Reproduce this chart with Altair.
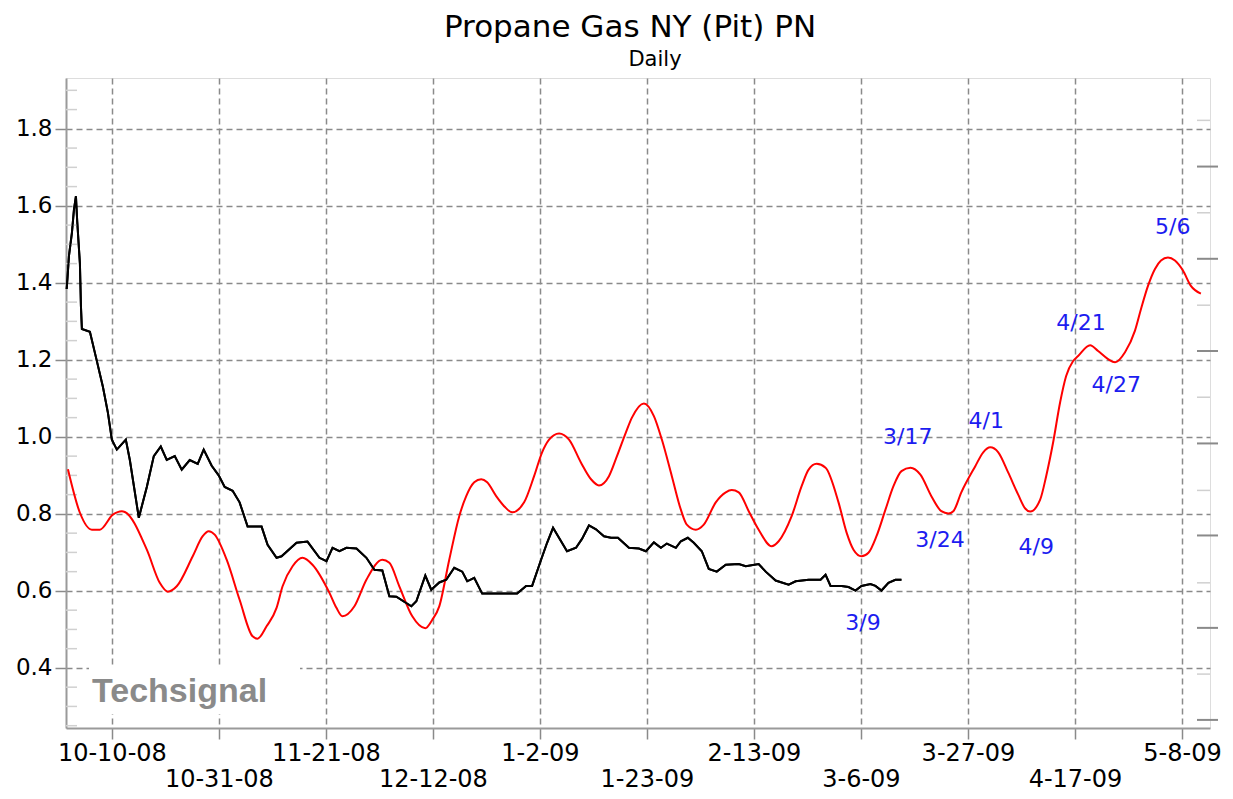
import altair as alt
import pandas as pd

BASE = pd.Timestamp("2008-10-10")

# ---- black line (price): days since 10-10-08, value ----
black_days = [-8.87, -8.72, -8.42, -7.84, -7.44, -7.05, -6.80, -6.27, -6.07, -5.88, -4.31, -3.0,
              -1.76, -0.78, 0.0, 0.98, 2.74, 3.53, 5.29, 6.86, 8.23, 9.6, 10.77, 12.34, 13.71,
              15.28, 16.85, 18.02, 19.59, 20.96, 22.14, 23.7, 25.07, 26.64, 29.38, 30.56, 32.32,
              33.3, 36.24, 38.39, 40.74, 42.12, 43.3, 44.66, 46.03, 48.0, 49.95, 51.52, 53.08,
              54.46, 55.83, 58.77, 59.75, 61.51, 62.68, 64.25, 65.62, 67.19, 68.76, 69.74, 71.11,
              72.67, 79.53, 81.29, 82.47, 84.23, 85.41, 86.58, 89.32, 91.09, 92.26, 93.63, 95.0,
              96.57, 97.94, 99.31, 101.47, 103.43, 104.8, 106.37, 107.74, 108.91, 110.68, 111.66,
              113.03, 114.2, 115.77, 117.14, 118.71, 120.47, 123.02, 124.39, 126.93, 128.31,
              130.26, 132.81, 134.18, 136.73, 139.08, 140.06, 141.04, 143.19, 144.56, 145.93,
              147.11, 148.87, 149.85, 151.03, 152.4, 153.77, 154.95]
black_vals = [1.384, 1.41, 1.47, 1.53, 1.59, 1.625, 1.56, 1.45, 1.34, 1.28, 1.273, 1.20,
              1.13, 1.063, 0.993, 0.967, 0.993, 0.94, 0.79, 0.87, 0.95, 0.975, 0.94, 0.95, 0.915,
              0.94, 0.93, 0.967, 0.925, 0.90, 0.87, 0.86, 0.83, 0.767, 0.767, 0.72, 0.686,
              0.69, 0.725, 0.728, 0.686, 0.677, 0.712, 0.703, 0.712, 0.71, 0.686, 0.655, 0.653,
              0.586, 0.585, 0.56, 0.573, 0.64, 0.603, 0.622, 0.629, 0.66, 0.65, 0.625, 0.634,
              0.593, 0.593, 0.613, 0.613, 0.681, 0.725, 0.764, 0.703, 0.712, 0.735, 0.77, 0.76,
              0.742, 0.738, 0.738, 0.712, 0.71, 0.703, 0.726, 0.712, 0.723, 0.712, 0.729,
              0.738, 0.725, 0.703, 0.657, 0.65, 0.668, 0.67, 0.664, 0.67, 0.65,
              0.627, 0.616, 0.625, 0.629, 0.629, 0.642, 0.613, 0.613, 0.61, 0.601,
              0.613, 0.618, 0.613, 0.601, 0.621, 0.629, 0.629]

# ---- red line (cycle projection) ----
red_days = [-8.62, -6.27, -3.92, -2.35, 0.2, 1.96, 2.55, 6.86, 9.4, 10.97, 12.73, 15.87, 17.83,
            19.0, 20.18, 22.53, 25.07, 27.62, 28.6, 30.36, 32.32, 33.5, 35.46, 37.41, 39.37,
            42.7, 44.07, 45.25, 47.6, 49.95, 53.08, 54.46, 56.41, 58.96, 61.51, 62.88, 64.25,
            66.21, 68.17, 69.54, 71.11, 72.48, 73.65, 75.42, 76.98, 78.55, 80.9, 82.86, 84.43,
            85.8, 87.76, 89.72, 92.07, 94.03, 95.59, 97.55, 99.12, 100.88, 102.06, 104.41,
            106.37, 107.93, 109.89, 111.66, 112.83, 114.59, 116.16, 118.51, 120.47, 121.65,
            123.02, 124.98, 126.93, 129.48, 130.85, 133.4, 135.36, 136.73, 138.3, 140.06,
            142.6, 144.17, 145.54, 147.11, 148.48, 150.05, 151.81, 153.38, 154.95, 156.71,
            158.67, 160.82, 162.78, 164.15, 165.13, 166.7, 169.44, 171.0, 172.38, 173.95,
            175.91, 177.86, 179.24, 180.22, 182.17, 183.35, 184.72, 186.09, 187.27, 188.64,
            189.62, 191.97, 193.54, 195.5, 196.87, 198.82, 200.78, 201.96, 203.33, 204.7,
            205.88, 207.25, 208.62, 210.19, 211.75, 213.71]
red_vals = [0.916, 0.803, 0.759, 0.759, 0.798, 0.807, 0.805, 0.707, 0.621, 0.598, 0.612, 0.69, 0.742,
            0.755, 0.746, 0.681, 0.577, 0.482, 0.476, 0.508, 0.556, 0.612, 0.664, 0.686, 0.668,
            0.595, 0.556, 0.534, 0.56, 0.629, 0.681, 0.673, 0.612, 0.534, 0.503, 0.525, 0.56,
            0.681, 0.794, 0.846, 0.882, 0.89, 0.882, 0.846, 0.82, 0.804, 0.83, 0.898, 0.96,
            0.993, 1.009, 0.993, 0.933, 0.89, 0.874, 0.898, 0.95, 1.012, 1.05, 1.087,
            1.054, 0.993, 0.898, 0.811, 0.772, 0.759, 0.772, 0.83, 0.856, 0.862,
            0.856, 0.807, 0.759, 0.716, 0.729, 0.794, 0.872, 0.915, 0.93, 0.92,
            0.83, 0.752, 0.707, 0.69, 0.699, 0.742, 0.811, 0.872, 0.911, 0.92,
            0.902, 0.846, 0.807, 0.801, 0.807, 0.856, 0.924, 0.96, 0.973, 0.96,
            0.907, 0.85, 0.814, 0.806, 0.837, 0.898, 0.986, 1.09, 1.158, 1.197,
            1.21, 1.238, 1.223, 1.202, 1.194, 1.22, 1.276, 1.332, 1.392, 1.436,
            1.458, 1.466, 1.458, 1.432, 1.392, 1.372]

# ---- turning-point notes ----
note_text = ["3/9", "3/17", "3/24", "4/1", "4/9", "4/21", "4/27", "5/6"]
note_days = [147.4, 156.2, 162.5, 171.6, 181.4, 190.2, 197.1, 208.2]
note_vals = [0.516, 0.999, 0.732, 1.041, 0.715, 1.296, 1.134, 1.546]

# ---- axes ----
y_ticks = [0.4, 0.6, 0.8, 1.0, 1.2, 1.4, 1.6, 1.8]
y_minor = [0.25, 0.3, 0.35, 0.45, 0.5, 0.55, 0.65, 0.7, 0.75, 0.85, 0.9, 0.95, 1.05, 1.1, 1.15,
           1.25, 1.3, 1.35, 1.45, 1.5, 1.55, 1.65, 1.7, 1.75, 1.85, 1.9]
right_major = [0.265, 0.504, 0.744, 0.983, 1.223, 1.4625, 1.702]
right_minor = [0.384, 0.621, 0.861, 1.103, 1.342, 1.582, 1.822]
x_tick_dates = [(2008, 10, 10), (2008, 10, 31), (2008, 11, 21), (2008, 12, 12), (2009, 1, 2),
                (2009, 1, 23), (2009, 2, 13), (2009, 3, 6), (2009, 3, 27), (2009, 4, 17),
                (2009, 5, 8)]

W, H = 1144, 650
FONT = "DejaVu Sans"

black_df = pd.DataFrame({"date": BASE + pd.to_timedelta(black_days, unit="D"), "value": black_vals})
red_df = pd.DataFrame({"date": BASE + pd.to_timedelta(red_days, unit="D"), "value": red_vals})
note_df = pd.DataFrame({"date": BASE + pd.to_timedelta(note_days, unit="D"), "value": note_vals,
                        "text": note_text})
minor_df = pd.DataFrame({"value": y_minor})
rmaj_df = pd.DataFrame({"value": right_major})
rmin_df = pd.DataFrame({"value": right_minor})

x_scale = alt.Scale(domain=[alt.DateTime(year=2008, month=10, date=1),
                            alt.DateTime(year=2009, month=5, date=13, hours=12)])
y_scale = alt.Scale(domain=[0.244, 1.932], zero=False, nice=False)

label_expr = ("round((datum.value - datetime(2008, 9, 10)) / 1814400000) % 2 == 1"
              " ? ['', timeFormat(datum.value, '%-m-%-d-%y')]"
              " : timeFormat(datum.value, '%-m-%-d-%y')")

x_axis = alt.Axis(values=[alt.DateTime(year=y, month=m, date=d) for (y, m, d) in x_tick_dates],
                  labelExpr=label_expr, title=None, grid=True, gridDash=[6, 4],
                  gridColor="#8a8a8a", gridWidth=1.5, tickSize=11, tickColor="#8a8a8a",
                  tickWidth=1.5, labelFont=FONT, labelFontSize=24, labelColor="black",
                  labelPadding=2, labelLineHeight=26, labelOverlap=False, labelFlush=False,
                  labelBaseline="top", domainColor="#9a9a9a", domainWidth=2)
y_axis = alt.Axis(values=y_ticks, format=".1f", title=None, grid=True, gridDash=[6, 4],
                  gridColor="#8a8a8a", gridWidth=1.5, tickSize=11, tickColor="#8a8a8a",
                  tickWidth=1.5, labelFont=FONT, labelFontSize=23, labelColor="black",
                  labelPadding=3, domainColor="#9a9a9a", domainWidth=2)

black = alt.Chart(black_df).mark_line(color="black", strokeWidth=2).encode(
    x=alt.X("date:T", scale=x_scale, axis=x_axis),
    y=alt.Y("value:Q", scale=y_scale, axis=y_axis),
)
red = alt.Chart(red_df).mark_line(color="#ff0000", strokeWidth=2, interpolate="monotone").encode(
    x=alt.X("date:T", scale=x_scale),
    y=alt.Y("value:Q", scale=y_scale),
)
notes = alt.Chart(note_df).mark_text(font=FONT, fontSize=22, color="#1c1cf0",
                                     align="center", baseline="middle").encode(
    x=alt.X("date:T", scale=x_scale),
    y=alt.Y("value:Q", scale=y_scale),
    text="text:N",
)
left_minor = alt.Chart(minor_df).mark_rule(color="#d0d0d0", strokeWidth=1.5).encode(
    y=alt.Y("value:Q", scale=y_scale), x=alt.value(0), x2=alt.value(11))
right_maj = alt.Chart(rmaj_df).mark_rule(color="#8a8a8a", strokeWidth=2).encode(
    y=alt.Y("value:Q", scale=y_scale), x=alt.value(W - 13), x2=alt.value(W + 8))
right_min = alt.Chart(rmin_df).mark_rule(color="#d0d0d0", strokeWidth=1.5).encode(
    y=alt.Y("value:Q", scale=y_scale), x=alt.value(W - 13), x2=alt.value(W))

wm_bg = alt.Chart(pd.DataFrame({"k": [0]})).mark_rect(color="white").encode(
    x=alt.value(23), x2=alt.value(234), y=alt.value(588), y2=alt.value(636))
wm = alt.Chart(pd.DataFrame({"t": ["Techsignal"]})).mark_text(
    font="Liberation Sans", fontWeight="bold", fontSize=34, color="#8a8a8a",
    align="left", baseline="alphabetic").encode(
    text="t:N", x=alt.value(26), y=alt.value(624))
daily = alt.Chart(pd.DataFrame({"t": ["Daily"]})).mark_text(
    font=FONT, fontSize=21, color="black", align="center", baseline="alphabetic").encode(
    text="t:N", x=alt.value(589), y=alt.value(-12))

chart = alt.layer(
    black, left_minor, right_min, right_maj, wm_bg, wm, red, black, notes, daily
).properties(
    width=W, height=H,
    padding={"left": 58, "top": 70, "right": 15, "bottom": 63},
    autosize=alt.AutoSizeParams(type="none"),
    title=alt.TitleParams("Propane Gas NY (Pit) PN", font=FONT, fontSize=31,
                          fontWeight="normal", color="black", anchor="middle",
                          dx=-8, offset=5),
).configure_view(stroke="#9a9a9a", strokeWidth=2).configure(background="white")

chart.save("out.html", embed_options={"renderer": "svg", "actions": False})
